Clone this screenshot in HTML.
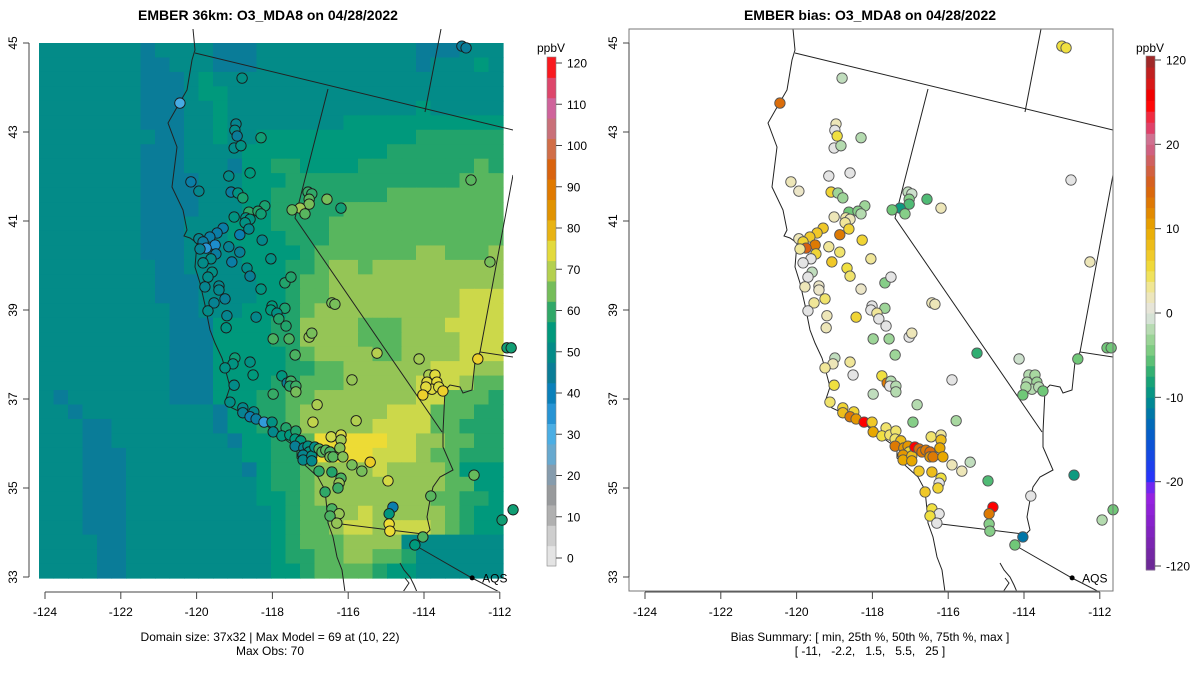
<!DOCTYPE html>
<html><head><meta charset="utf-8"><style>
body{margin:0;background:#fff}
svg text{font-family:"Liberation Sans",Arial,sans-serif;fill:#000}
</style></head><body>
<svg id="root" width="1200" height="672" viewBox="0 0 1200 672" xmlns="http://www.w3.org/2000/svg">
<defs>
<clipPath id="clipL"><rect x="29" y="29" width="484" height="562"/></clipPath>
<clipPath id="clipR"><rect x="629" y="29" width="484" height="562"/></clipPath>
</defs>
<text x="268" y="20" text-anchor="middle" font-size="14" font-weight="bold">EMBER 36km: O3_MDA8 on 04/28/2022</text>
<text x="870" y="20" text-anchor="middle" font-size="14" font-weight="bold">EMBER bias: O3_MDA8 on 04/28/2022</text>
<g id="leftPanel"></g>
<g id="rightPanel"></g>
<text x="270" y="641" text-anchor="middle" font-size="12">Domain size: 37x32 | Max Model = 69 at (10, 22)</text>
<text x="270" y="655" text-anchor="middle" font-size="12">Max Obs: 70</text>
<text x="870" y="641" text-anchor="middle" font-size="12">Bias Summary: [ min, 25th %, 50th %, 75th %, max ]</text>
<text x="870" y="655" text-anchor="middle" font-size="12" xml:space="preserve">[ -11,   -2.2,   1.5,   5.5,   25 ]</text>
</svg>
<script>
const NS="http://www.w3.org/2000/svg";
// ---- data ----
const gridRows=[
"bbbbbbbabbbbaaabbbbbbbbbbbaaabbb",
"bbbbbbbaabbbaaabbbbbbbbbbbabbbcb",
"bbbbbbbaaabcbbbbbbbbbbbbbbbbbbbb",
"bbbbbbbaaabccbbbbbbbbbbbbbbbbbbb",
"bbbbbbbaaabbcbbbbbbbbbbbbbcbbbbb",
"bbbbbbbaaabbcbbbbbbbbccccccccccc",
"bbbbbbbbaabbcbbcccccccccccdddddd",
"bbbbbbbaaabbbbccccccccccdddddddd",
"bbbbbbbaaabbbaccddccccddddddddedd",
"bbbbbbbaaaabbbcccddddddddddddeee",
"bbbbbbbaaaabbbccddddddddeeeeeeee",
"bbbbbbbaaaabbbccdddddeeeeeeeeeee",
"bbbbbbbaaabbbcccddddeeeeeeeeeeee",
"bbbbbbbaaabbbccccdddeeeeeeeeeeee",
"bbbbbbbaaabbbbccccdeeeeeeeffeeef",
"bbbbbbbbaabbbbcccddeffefffffffff",
"bbbbbbbbaaabbbbccdeeffffffffffff",
"bbbbbbbbaaabbbbccdeefffffffffggg",
"bbbbbbbbbaabbbcccdeffffffffffggg",
"bbbbbbbbbaaaccccddffffeeefffgggg",
"bbbbbbbbbaaaccccddffffeeeffffggg",
"bbbbbbbbbaaacccccdeffffeeffffggg",
"bbbbbbbbbaaacccccddeeffffffgggff",
"bbbbbbbbbaaaccccddeeefffffgggfee",
"babbbbbbbaaacccddeefffffffggeeed",
"bbabbbbbbbbbaccddeffffffgggeeedd",
"bbbaabbbbbbbaccddefffffggggeeddd",
"bbbaabbbbbbbbaccddehhhhhggffeedd",
"bbbaaabbbbbbbbccdddhhhhgggfeeddd",
"bbbaaabbbbbbbbacddeffffgffffeccc",
"bbbaaabbbbbbbbbcddefffffffffeecc",
"bbbaaabbbbbbbbbccdeffffffffeeddc",
"bbbaaabbbbbbbbbbcdeeffgfffffedcc",
"bbbaaabbbbbbbbbbcdeefggfgggfedcc",
"bbbbaabbbbbbbbbbcdeeeffffbbbbbbb",
"bbbbaabbbbbbbbbbcddeeffeedbbbbbb",
"bbbbaabbbbbbbbbbccdeeeedccbbbbbb"];
const levelCodes=["a","b","c","d","e","f","g","h"];
const levelValues=[45,50,55,59,63,67,72,76];
const stationLon=[-118.80,-120.44,-118.96,-118.99,-118.93,-118.30,-119.01,-118.83,-119.15,-118.59,-120.15,-119.94,-119.09,-118.91,-118.78,-118.20,-118.62,-118.38,-118.30,-119.01,-118.70,-118.59,-118.72,-118.62,-119.30,-119.46,-119.65,-119.94,-119.83,-119.51,-119.75,-119.91,-119.49,-119.62,-119.83,-118.86,-119.15,-118.86,-118.27,-119.07,-118.04,-118.67,-118.59,-119.59,-119.70,-119.78,-119.41,-119.41,-119.25,-119.54,-119.70,-119.20,-119.22,-118.43,-118.30,-117.67,-117.51,-118.01,-118.04,-117.67,-117.88,-117.83,-117.64,-117.98,-117.56,-117.03,-116.96,-116.43,-116.35,-117.06,-116.96,-117.03,-117.03,-117.27,-117.48,-117.14,-116.56,-116.19,-112.76,-112.26,
-117.40,-115.24,-114.13,-111.81,-111.70,-112.58,-118.99,-119.04,-119.25,-118.59,-118.51,-117.75,-117.61,-117.51,-117.54,-117.38,-117.38,-119.01,-117.98,-115.90,-116.82,-119.12,-118.78,-118.78,-118.49,-118.59,-118.43,-118.22,-118.01,-117.98,-117.64,-117.75,-117.54,-117.38,-117.40,-117.25,-117.40,-117.17,-117.06,-117.03,-117.19,-117.19,-116.96,-116.96,-116.88,-116.77,-116.69,-116.59,-116.48,-116.48,-116.40,-116.45,-116.19,-116.19,-116.22,-116.14,-116.77,-116.43,-116.19,-116.24,-116.27,-116.61,-115.90,-115.64,-115.42,-115.79,-116.93,-114.95,-114.82,-114.92,-114.92,-114.90,-116.43,-116.24,-116.48,-116.30,-113.82,-114.03,-114.24,-112.68,-111.94,-111.65,-113.87,-113.71,-113.92,-113.66,-113.79,-113.95,-113.61,-114.03,-113.50,-113.00,-112.89];
const stationLat=[44.21,43.65,43.18,43.04,42.91,42.87,42.64,42.69,42.01,42.08,41.88,41.67,41.65,41.63,41.52,41.34,41.20,41.22,41.16,41.09,41.07,41.04,40.96,40.82,40.84,40.73,40.64,40.60,40.53,40.46,40.39,40.37,40.26,40.15,40.06,40.69,40.42,40.30,40.57,40.08,40.15,39.94,39.76,39.85,39.74,39.52,39.54,39.45,39.25,39.16,38.98,38.87,38.60,38.84,39.47,39.61,39.74,39.09,39.00,39.04,38.93,38.80,38.64,38.35,38.35,38.39,38.48,39.16,39.13,41.65,41.61,41.49,41.38,41.29,41.25,41.16,41.49,41.29,41.92,40.08,
37.99,38.03,37.90,38.15,38.15,37.90,37.92,37.79,37.70,37.83,37.54,37.52,37.36,37.40,37.29,37.29,37.16,37.31,37.11,37.43,36.87,36.93,36.80,36.69,36.71,36.60,36.55,36.48,36.48,36.26,36.35,36.17,36.19,36.28,36.10,36.06,35.94,35.90,35.94,35.81,35.74,35.63,35.72,35.61,35.92,35.88,35.81,35.85,35.81,35.70,35.70,36.15,36.19,36.08,35.90,35.70,35.38,35.36,35.22,35.11,35.00,34.91,35.52,35.38,35.58,36.51,36.48,35.16,34.57,34.42,34.19,34.03,34.53,34.42,34.37,34.21,34.82,33.90,33.72,35.29,34.28,34.51,37.54,37.54,37.38,37.38,37.22,37.27,37.27,37.09,37.18,44.93,44.89];
const stationBias=[-1.5,14,2,0,5,-2,0,-2,0,0,2,1.5,6,-3,-3,-3,-5,-4,-2,2,2.5,2,3,6,7,7,7,2,6,13,15,3,6,0,0,13,3,4,6,7,3,5,4,-1.5,0,2,1.5,1.5,4,3,0,2,2,6,1.5,-4,0,0,0,-3,3,0,0,-3,-3,0,2,2,2,-1.5,-1,-4,-6,-9,-5,-4,-6,2,0,2,
-3,-7,-1,-5,-5,-5,-1.5,2,3,3,0,5,13,-2,0,-2,-2,5,-1.5,0,-2,4,6,8,6,13,11,25,7,10,4,5,4,4,4,8,13,11,11,6,11,10,8,10,25,14,13,13,14,11,13,4,3,8,10,10,7,8,5,0,6,7,2,2,-1.5,-2.5,-4,-6,25,13,-4,-4,5,0,5,0,0,-12,-5,-9,-2,-5,-2,-2.5,-2,-3,-2,-2.5,-2,-5,-5,5,5];
const xTicks=[-124,-122,-120,-118,-116,-114,-112];
const yTicks=[33,35,37,39,41,43,45];
const modelTicks=[0,10,20,30,40,50,60,70,80,90,100,110,120];
const biasTicks=[-120,-20,-10,0,10,20,120];
// ---- scales ----
const modelStops=[[0,"#e8e8e8"],[5,"#d4d4d4"],[10,"#b4b4b4"],[15,"#9a9a9a"],[20,"#8a9aa8"],[25,"#6aa8cc"],[30,"#4eb0e6"],[35,"#2a96d6"],[40,"#0a80bc"],[45,"#0a7c98"],[50,"#038b88"],[55,"#00997c"],[59,"#22a36b"],[63,"#58b65e"],[67,"#95c556"],[72,"#ccd84a"],[76,"#eddb35"],[80,"#e8b010"],[85,"#e09000"],[90,"#e07800"],[95,"#d86010"],[100,"#d07050"],[105,"#c87080"],[110,"#d060a0"],[115,"#e04060"],[120,"#ff1010"]];
const biasStops=[[-120,"#6a2a90"],[-60,"#8a20d0"],[-30,"#9a22e8"],[-20,"#2a30ff"],[-15,"#0858d0"],[-12.5,"#0070b0"],[-10,"#00908a"],[-7.5,"#20a870"],[-5,"#70c878"],[-2.5,"#a8d8a0"],[-1,"#cce0cc"],[0,"#e4e4e4"],[1.5,"#ece6c8"],[3,"#f0e698"],[5,"#f0e040"],[7,"#f0c828"],[10,"#e8a800"],[12.5,"#e08000"],[15,"#d86010"],[17.5,"#d06050"],[20,"#d06090"],[22,"#f03050"],[25,"#ff0000"],[60,"#e01010"],[120,"#a02828"]];
function hex2(h){return [1,3,5].map(i=>parseInt(h.substr(i,2),16));}
function interp(stops,v){
  if(v<=stops[0][0])return stops[0][1];
  if(v>=stops[stops.length-1][0])return stops[stops.length-1][1];
  for(let i=0;i<stops.length-1;i++){const a=stops[i],b=stops[i+1];
    if(v>=a[0]&&v<=b[0]){const t=(v-a[0])/(b[0]-a[0]);const c1=hex2(a[1]),c2=hex2(b[1]);
      return "rgb("+c1.map((c,k)=>Math.round(c+(c2[k]-c)*t)).join(",")+")";}}
}
const xScale=(lon,off)=>off+45+(lon+124)*37.9;
const yScale=lat=>43+(45-lat)*44.5;
const gx0=39,gy0=43,cw=14.5,ch=14.46;
function cellValue(c,r){if(r<0||r>=gridRows.length)return null;const s=gridRows[r];if(c<0||c>=32||c>=s.length)return null;return levelValues[levelCodes.indexOf(s[c])];}
function mk(tag,attrs,parent){const e=document.createElementNS(NS,tag);for(const k in attrs)e.setAttribute(k,attrs[k]);parent.appendChild(e);return e;}
const L=document.getElementById("leftPanel"),R=document.getElementById("rightPanel");
// ---- raster ----
const rast=mk("g",{},L);


gridRows.forEach((row,r)=>{for(let c=0;c<32;c++){
  const v=cellValue(c,r);
  const cell=mk("rect",{x:gx0+c*cw,y:gy0+r*ch,width:cw+0.6,height:ch+0.6,fill:interp(modelStops,v)},rast);
  
  
}});
// ---- map lines ----
const coast=[[193,29],[195,50],[192,60],[187,90],[180,102],[168,123],[177,147],[172,187],[183,210],[187,230],[184,236],[190,238],[197,243],[195,267],[200,283],[205,305],[210,330],[215,343],[222,358],[225,368],[230,387],[225,402],[232,408],[247,415],[260,420],[272,430],[290,443],[297,448],[297,458],[307,467],[318,477],[325,490],[327,510],[328,523],[333,537],[337,557],[342,570],[345,592]];
const borders=[
 [[195,53],[513,130]],
 [[328,89],[295,218],[442,432]],
 [[441,29],[425,112]],
 [[513,175],[480,352],[513,357]],
 [[480,352],[475,362],[472,390],[463,393],[460,387],[450,385],[445,390],[443,432],[443,447],[453,470],[440,477],[433,487],[430,500],[427,517],[430,530],[423,537]],
 [[333,523],[423,534]],
 [[418,547],[472,578],[515,600]],
 [[400,563],[404,570],[410,577],[414,585],[417,592]],
 [[405,578],[409,583],[403,592]]];
function drawLines(parent,off,clip,name){
  const g=mk("g",{"clip-path":"url(#"+clip+")",fill:"none",stroke:"#222","stroke-width":"1"},parent);
  
  
  [coast].concat(borders).forEach(line=>{mk("polyline",{points:line.map(p=>(p[0]+off)+","+p[1]).join(" ")},g);});
}
drawLines(L,0,"clipL","map-boundaries-left");
drawLines(R,600,"clipR","map-boundaries-right");
// ---- stations ----
function drawStations(parent,off,isBias){
  const g=mk("g",{},parent);
  
  
  stationLon.forEach((lon,i)=>{
    const x=xScale(lon,off),y=yScale(stationLat[i]);
    let fill;
    if(isBias){fill=interp(biasStops,stationBias[i]);}
    else{const c=Math.floor((x-gx0)/cw),r=Math.floor((y-gy0)/ch);let m=cellValue(c,r);if(m==null)m=52;fill=interp(modelStops,m-stationBias[i]);}
    const ci=mk("circle",{cx:x,cy:y,r:5.2,fill:fill,stroke:isBias?"#555":"#1a1a1a","stroke-width":"0.9"},g);
    
    
  });
  const ax=xScale(-112.73,off),ay=yScale(32.98);
  const d=mk("circle",{cx:ax,cy:ay,r:2.5,fill:"#000"},g);
  
  
  const t=mk("text",{x:ax+10,y:ay+4.5,"font-size":"12"},g);t.textContent="AQS";
  
  
}
drawStations(L,0,false);
drawStations(R,600,true);
// ---- axes ----
function drawAxes(parent,off,side){
  const g=mk("g",{stroke:"#444","stroke-width":"1",fill:"none"},parent);
  
  
  if(side==="right"){const b=mk("rect",{x:629,y:29,width:484,height:562,stroke:"#777"},g);
    
    }
  mk("line",{x1:xScale(-124,off),x2:xScale(-112,off),y1:592,y2:592},g);
  mk("line",{x1:off+29,x2:off+29,y1:yScale(33),y2:yScale(45)},g);
  xTicks.forEach(v=>{const x=xScale(v,off);mk("line",{x1:x,x2:x,y1:592,y2:599},g);
    const t=mk("text",{x:x,y:616,"text-anchor":"middle","font-size":"12",stroke:"none"},parent);t.textContent=v;
    
    });
  yTicks.forEach(v=>{const y=yScale(v);mk("line",{x1:off+29,x2:off+23,y1:y,y2:y},g);
    const t=mk("text",{x:0,y:0,"text-anchor":"middle","font-size":"12",transform:"translate("+(off+17)+","+y+") rotate(-90)"},parent);t.textContent=v;
    
    });
}
drawAxes(L,0,"left");
drawAxes(R,600,"right");
// ---- colorbars ----
function colorbarModel(){
  const g=mk("g",{},L);
  
  
  const top=57,bot=566,n=25,h=(bot-top)/n;
  for(let i=0;i<n;i++){const v=-1.5+(i+0.5)*(123/n);
    mk("rect",{x:547,y:bot-(i+1)*h,width:9,height:h+0.5,fill:interp(modelStops,v)},g);}
  mk("rect",{x:547,y:top,width:9,height:bot-top,fill:"none",stroke:"#888","stroke-width":"0.6"},g);
  modelTicks.forEach(v=>{const y=558-v*4.125;mk("line",{x1:556,x2:562,y1:y,y2:y,stroke:"#444"},g);
    const t=mk("text",{x:567,y:y+4.5,"font-size":"12"},g);t.textContent=v;
    
    });
  const u=mk("text",{x:551,y:52,"text-anchor":"middle","font-size":"12"},g);u.textContent="ppbV";
  
  
}
const biasBarTop=["#d07090","#e04068","#f02a40","#ff0808","#f00000","#d81818","#c02020","#a02828"];
function colorbarBias(){
  const g=mk("g",{},R);
  
  
  const top=56,bot=570;
  const tickY=v=>{const i=biasTicks.indexOf(v);return 566-i*(506/6);};
  for(let s=0;s<6;s++){const v0=biasTicks[s],v1=biasTicks[s+1];
    const y0=(s===0?bot:tickY(v0)),y1=(s===5?top:tickY(v1));
    for(let k=0;k<8;k++){const v=v0+(k+0.5)*(v1-v0)/8;const hh=(y0-y1)/8;
      const col=(s===5)?biasBarTop[k]:interp(biasStops,v);
      mk("rect",{x:1146,y:y0-(k+1)*hh,width:9,height:hh+0.5,fill:col},g);}}
  mk("rect",{x:1146,y:top,width:9,height:bot-top,fill:"none",stroke:"#888","stroke-width":"0.6"},g);
  biasTicks.forEach(v=>{const y=tickY(v);mk("line",{x1:1155,x2:1161,y1:y,y2:y,stroke:"#444"},g);
    const t=mk("text",{x:1166,y:y+4.5,"font-size":"12"},g);t.textContent=v;
    
    });
  const u=mk("text",{x:1150,y:52,"text-anchor":"middle","font-size":"12"},g);u.textContent="ppbV";
  
  
}
colorbarModel();colorbarBias();
</script>
</body></html>
